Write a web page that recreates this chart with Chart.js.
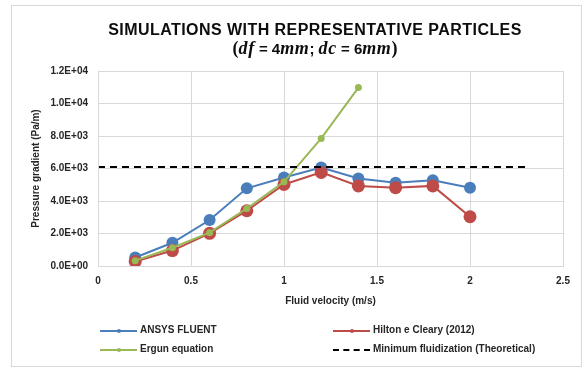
<!DOCTYPE html>
<html>
<head>
<meta charset="utf-8">
<script src="https://cdn.jsdelivr.net/npm/chart.js@4"></script>
<style>
  body { margin: 0; background: #fff; }
  #wrap { position: relative; width: 582px; height: 367px; overflow: hidden; }
  #frame { position: absolute; left: 11px; top: 5px; width: 569px; height: 360px; border: 1px solid #d9d9d9; }
  canvas { position: absolute; left: 0; top: 0; }
  .title { position: absolute; left: 0; width: 630px; text-align: center; color: #0d0d0d;
           font-family: "Liberation Sans", Arial, sans-serif; font-weight: bold; white-space: nowrap; }
  #t1 { top: 21px; font-size: 16px; letter-spacing: 0.45px; }
  #t2 { top: 38px; font-size: 15px; }
  .m { font-family: "Liberation Serif", serif; font-style: italic; font-size: 18px; letter-spacing: 0.6px; }
  .p { font-family: "Liberation Serif", serif; font-size: 18px; }
  .leg { position: absolute; font-family: "Liberation Sans", Arial, sans-serif; font-weight: bold;
         font-size: 10px; color: #262626; white-space: nowrap; }
  .sw { position: absolute; height: 0; }
</style>
</head>
<body>
<div id="wrap">
  <div id="frame"></div>
  <canvas id="chart" width="582" height="367"></canvas>
  <div class="title" id="t1">SIMULATIONS WITH REPRESENTATIVE PARTICLES</div>
  <div class="title" id="t2"><span class="p">(</span><span class="m">df</span> = 4<span class="m">mm</span>; <span class="m">dc</span> = 6<span class="m">mm</span><span class="p">)</span></div>
  <div id="legend"></div>
</div>
<script>
// values
const velocity = [0.2, 0.4, 0.6, 0.8, 1.0, 1.2, 1.4, 1.6, 1.8, 2.0];
const ansysFluent = [520, 1430, 2830, 4780, 5450, 6060, 5390, 5120, 5280, 4810];
const hiltonCleary = [280, 950, 2010, 3400, 5020, 5760, 4930, 4820, 4930, 3030];
const ergunVelocity = [0.2, 0.4, 0.6, 0.8, 1.0, 1.2, 1.4];
const ergun = [330, 1120, 2050, 3540, 5180, 7850, 10980];
const minFluidX = [0, 2.3];
const minFluid = [6100, 6100];
const xTicks = [0, 0.5, 1, 1.5, 2, 2.5];
const yTicks = [0, 2000, 4000, 6000, 8000, 10000, 12000];

const names = ['ANSYS FLUENT', 'Hilton e Cleary (2012)', 'Ergun equation', 'Minimum fluidization (Theoretical)'];
const colors = ['#4a7ebb', '#be4b48', '#98b954', '#000000'];

function pts(xs, ys) {
	return xs.map((x, i) => ({ x: x, y: ys[i] }));
}

function sci(v) {
	// Excel style 1.2E+04
	const s = v.toExponential(1).toUpperCase();
	const [m, e] = s.split('E');
	const sign = e[0];
	const d = e.slice(1).padStart(2, '0');
	return m + 'E' + sign + d;
}

const font = { family: '"Liberation Sans", Arial, sans-serif', size: 10, weight: 'bold' };

new Chart(document.getElementById('chart'), {
	type: 'line',
	data: {
		datasets: [
			{ label: names[0], data: pts(velocity, ansysFluent), borderColor: colors[0], backgroundColor: colors[0],
			  borderWidth: 2, pointRadius: 6, pointBorderWidth: 0, order: 4 },
			{ label: names[1], data: pts(velocity, hiltonCleary), borderColor: colors[1], backgroundColor: colors[1],
			  borderWidth: 2, pointRadius: 6.5, pointBorderWidth: 0, order: 3 },
			{ label: names[2], data: pts(ergunVelocity, ergun), borderColor: colors[2], backgroundColor: colors[2],
			  borderWidth: 2, pointRadius: 3.5, pointBorderWidth: 0, order: 2 },
			{ label: names[3], data: pts(minFluidX, minFluid), borderColor: colors[3], borderDash: [7, 5],
			  borderWidth: 2, pointRadius: 0, order: 1 }
		]
	},
	options: {
		responsive: false,
		animation: false,
		layout: { padding: { left: 26, right: 19, top: 71, bottom: 56 } },
		plugins: { legend: { display: false }, tooltip: { enabled: false } },
		scales: {
			x: {
				type: 'linear', min: 0, max: 2.5,
				afterBuildTicks: s => { s.ticks = xTicks.map(v => ({ value: v })); },
				afterFit: s => { s.height = 45; },
				grid: { color: '#d9d9d9', drawTicks: false },
				border: { color: '#d9d9d9' },
				ticks: { font: font, color: '#262626', padding: 9, callback: v => String(v) },
				title: { display: true, text: 'Fluid velocity (m/s)', font: font, color: '#262626', padding: { top: 4, bottom: 4 } }
			},
			y: {
				min: 0, max: 12000,
				afterBuildTicks: s => { s.ticks = yTicks.map(v => ({ value: v })); },
				afterFit: s => { s.width = 72; },
				grid: { color: '#d9d9d9', drawTicks: false },
				border: { color: '#d9d9d9' },
				ticks: { font: font, color: '#262626', padding: 10, callback: v => sci(v) },
				title: { display: true, text: 'Pressure gradient (Pa/m)', font: font, color: '#262626', padding: { top: 4, bottom: 4 } }
			}
		}
	},
	plugins: [{
		id: 'boxTopRight',
		afterDraw(chart) {
			const a = chart.chartArea, c = chart.ctx;
			c.save();
			c.strokeStyle = '#d9d9d9';
			c.lineWidth = 1;
			c.strokeRect(Math.round(a.left) + 0.5, Math.round(a.top) + 0.5, Math.round(a.right - a.left), Math.round(a.bottom - a.top));
			c.restore();
		}
	}]
});

// legend in two columns, like the spreadsheet one
const legendPos = [[100, 331], [333, 331], [100, 350], [333, 350]];
const legendBox = document.getElementById('legend');
names.forEach((n, i) => {
	const [lx, ly] = legendPos[i];
	const w = 37;
	const sw = document.createElement('div');
	sw.className = 'sw';
	sw.style.left = lx + 'px';
	sw.style.top = (ly - 1) + 'px';
	sw.style.width = w + 'px';
	sw.style.borderTop = (i === 3 ? '2px dashed ' : '2px solid ') + colors[i];
	legendBox.appendChild(sw);
	if (i < 3) {
		const dot = document.createElement('div');
		dot.className = 'sw';
		dot.style.left = (lx + w / 2 - 2) + 'px';
		dot.style.top = (ly - 2) + 'px';
		dot.style.width = '4px';
		dot.style.height = '4px';
		dot.style.borderRadius = '2px';
		dot.style.background = colors[i];
		legendBox.appendChild(dot);
	}
	const t = document.createElement('div');
	t.className = 'leg';
	t.textContent = n;
	t.style.left = (lx + w + 3) + 'px';
	t.style.top = (ly - 7) + 'px';
	legendBox.appendChild(t);
});
</script>
</body>
</html>
